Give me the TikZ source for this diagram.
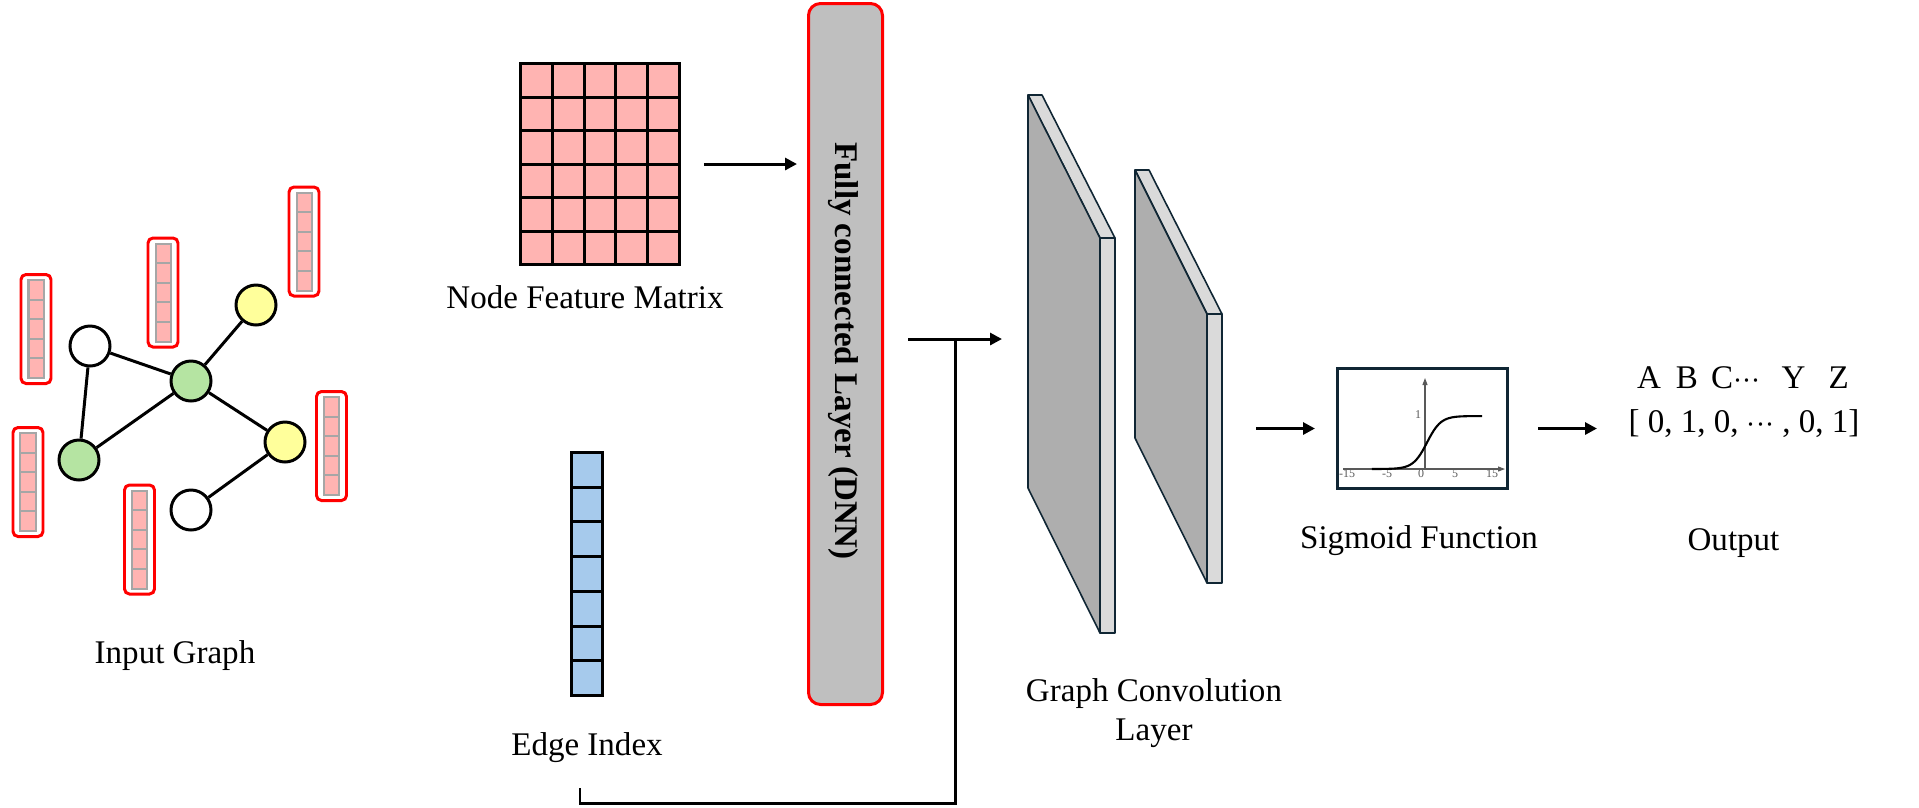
\documentclass[tikz,border=0pt]{standalone}
\usepackage{fontspec}
\setmainfont{Liberation Serif}
\usetikzlibrary{arrows.meta}

\definecolor{cellpink}{RGB}{255,180,178}
\definecolor{cellblue}{RGB}{166,202,236}
\definecolor{nodegreen}{RGB}{181,228,162}
\definecolor{nodeyellow}{RGB}{255,255,155}
\definecolor{fcgray}{RGB}{191,191,191}
\definecolor{slabfront}{RGB}{174,174,174}
\definecolor{slabside}{RGB}{218,218,218}
\definecolor{navy}{RGB}{16,38,52}
\definecolor{vecgray}{RGB}{166,166,166}

\newcommand{\tightdots}{$\mathord{\cdot}\mathord{\cdot}\mathord{\cdot}$}

\begin{document}
\begin{tikzpicture}[x=1cm,y=-1cm,
  every node/.style={font=\fontsize{9.4}{11.1}\selectfont},
  gnode/.style={circle,draw,line width=0.85pt,minimum size=0.40cm,inner sep=0pt,fill=white},
  gedge/.style={line width=0.85pt},
  arr/.style={line width=0.85pt,-{Triangle[length=0.12cm,width=0.12cm]}},
  conn/.style={line width=0.85pt},
  grid line/.style={line width=0.85pt},
  slab/.style={draw=navy,line width=0.45pt,line join=round},
  sigax/.style={line width=0.3pt,draw=black!65,-{Triangle[length=0.07cm,width=0.05cm]}},
  ticklab/.style={font=\fontsize{3.4}{4}\selectfont,text=black!65,inner sep=0pt}]
  \useasboundingbox (0,0) rectangle (19.19,8.07);

  % input graph
  \foreach \cx/\cy in {0.36/3.29, 1.63/2.925, 3.04/2.415, 0.28/4.82, 1.395/5.395, 3.315/4.46}{
    \draw[red,line width=0.85pt,rounded corners=0.05cm,fill=white] (\cx-0.15,\cy-0.545) rectangle (\cx+0.15,\cy+0.545);
    \fill[vecgray] (\cx-0.085,\cy-0.5) rectangle (\cx+0.085,\cy+0.5);
    \foreach \k in {0,...,4}
      \fill[cellpink] (\cx-0.065,\cy-0.48+\k*0.196) rectangle (\cx+0.065,\cy-0.304+\k*0.196);
  }
  \node[gnode] (w1) at (0.90,3.46) {};
  \node[gnode,fill=nodegreen] (g1) at (1.91,3.81) {};
  \node[gnode,fill=nodeyellow] (y1) at (2.56,3.05) {};
  \node[gnode,fill=nodegreen] (g2) at (0.79,4.60) {};
  \node[gnode,fill=nodeyellow] (y2) at (2.85,4.42) {};
  \node[gnode] (w2) at (1.91,5.10) {};
  \draw[gedge] (w1)--(g1) (w1)--(g2) (g2)--(g1) (g1)--(y1) (g1)--(y2) (y2)--(w2);
  \node[anchor=base] (lgraph) at (1.75,6.63) {Input Graph};

  % node feature matrix
  \node[draw,fill=cellpink,line width=0.85pt,minimum width=1.59cm,minimum height=2.01cm,inner sep=0pt] (nfm) at (6.00,1.64) {};
  \foreach \i in {1,...,4} \draw[grid line] (5.205+\i*0.318,0.635) -- ++(0,2.01);
  \foreach \j in {1,...,5} \draw[grid line] (5.205,0.635+\j*0.335) -- ++(1.59,0);
  \node[anchor=base] (lnfm) at (5.85,3.08) {Node Feature Matrix};

  % edge index
  \node[draw,fill=cellblue,line width=0.85pt,minimum width=0.31cm,minimum height=2.43cm,inner sep=0pt] (eidx) at (5.87,5.74) {};
  \foreach \j in {1,...,6} \draw[grid line] (5.715,4.525+\j*0.347) -- ++(0.31,0);
  \node[anchor=base] (leidx) at (5.87,7.55) {Edge Index};

  % fully connected layer
  \node[draw=red,fill=fcgray,line width=0.85pt,rounded corners=0.12cm,minimum width=0.74cm,minimum height=7.01cm,inner sep=0pt] (fc) at (8.455,3.54) {};
  \node[rotate=-90,font=\fontsize{9.4}{11.1}\selectfont\bfseries] (lfc) at (8.43,3.51) {Fully connected Layer (DNN)};

  % graph convolution slabs
  \filldraw[slab,fill=slabside] (10.28,0.95) -- (10.42,0.95) -- (11.15,2.38) -- (11.00,2.38) -- cycle;
  \filldraw[slab,fill=slabfront] (10.28,0.95) -- (11.00,2.38) -- (11.00,6.33) -- (10.28,4.88) -- cycle;
  \filldraw[slab,fill=slabside] (11.00,2.38) -- (11.15,2.38) -- (11.15,6.33) -- (11.00,6.33) -- cycle;
  \filldraw[slab,fill=slabside] (11.35,1.70) -- (11.49,1.70) -- (12.22,3.14) -- (12.07,3.14) -- cycle;
  \filldraw[slab,fill=slabfront] (11.35,1.70) -- (12.07,3.14) -- (12.07,5.83) -- (11.35,4.38) -- cycle;
  \filldraw[slab,fill=slabside] (12.07,3.14) -- (12.22,3.14) -- (12.22,5.83) -- (12.07,5.83) -- cycle;
  \node[align=center] (lgcn) at (11.54,7.13) {Graph Convolution\\Layer};

  % sigmoid
  \node[draw=navy,line width=0.85pt,minimum width=1.70cm,minimum height=1.20cm,inner sep=0pt] (sig) at (14.225,4.285) {};
  \draw[sigax] (13.43,4.69) -- (15.05,4.69);
  \draw[sigax] (14.25,4.69) -- (14.25,3.78);
  \foreach \t/\px in {-15/13.47,-5/13.87,0/14.21,5/14.55,15/14.92}
    \node[ticklab,anchor=base] (t\px) at (\px,4.77) {\t};
  \node[ticklab] (tone) at (14.18,4.15) {1};
  \draw[line width=0.6pt] plot[domain=-8:8,samples=60,smooth] ({\x*0.069+14.27},{4.69-0.53/(1+exp(-\x))});
  \node[anchor=base] (lsig) at (14.19,5.48) {Sigmoid Function};

  % output
  \node[anchor=base] (outhdr) at (17.43,3.88) {A\hspace{.45em}B\hspace{.4em}C\tightdots\hspace{.65em}Y\hspace{.7em}Z};
  \node[anchor=base] (outvec) at (17.44,4.32) {[ 0, 1, 0, \tightdots{} , 0, 1]};
  \node[anchor=base] (lout) at (17.335,5.50) {Output};

  % connectors
  \coordinate (fcout) at (9.08,3.39);
  \coordinate (gcin) at (10.02,3.39);
  \coordinate (tee) at (9.55,3.39);
  \coordinate (eitail) at (5.80,7.88);
  \coordinate (ecorner) at (5.80,8.03);
  \coordinate (gcout) at (12.56,4.285);
  \draw[arr] ([xshift=0.23cm]nfm.east) -- ([xshift=-0.10cm]nfm.east -| fc.west);
  \draw[arr] (fcout) -- (gcin);
  \draw[conn] (eitail) -- (ecorner) -| (tee);
  \draw[arr] (gcout) -- ([xshift=-0.21cm]sig.west);
  \draw[arr] ([xshift=0.29cm]sig.east) -- ([xshift=0.88cm]sig.east);
\end{tikzpicture}
\end{document}
